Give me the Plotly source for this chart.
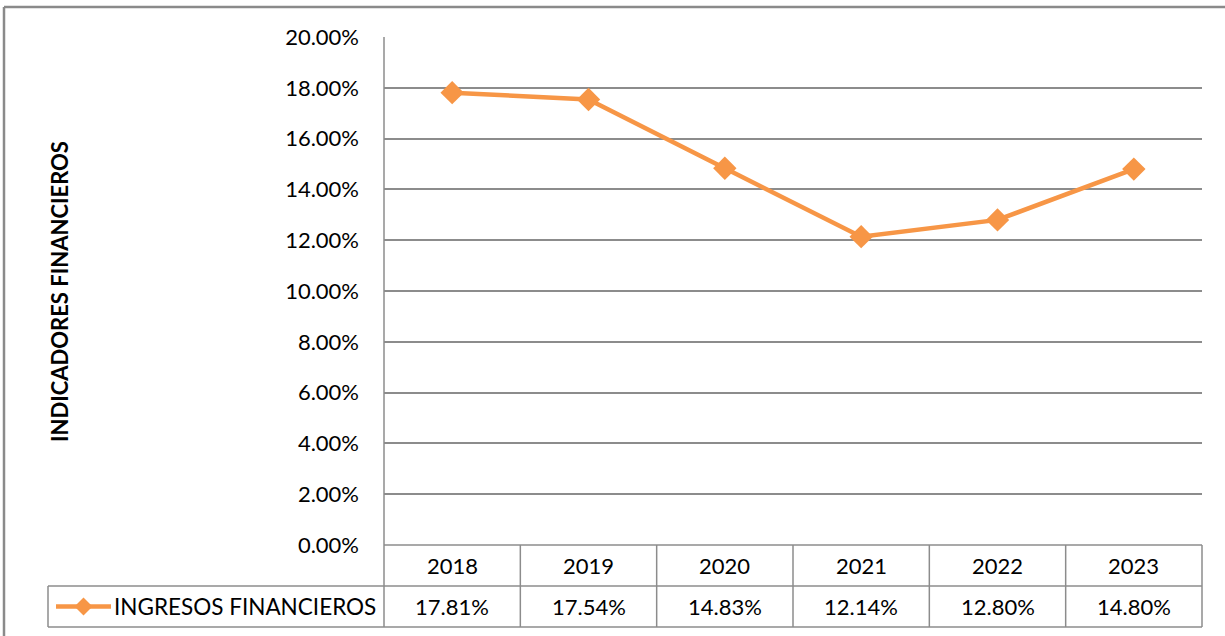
import plotly.graph_objects as go

years = ["2018", "2019", "2020", "2021", "2022", "2023"]
ingresos = [17.81, 17.54, 14.83, 12.14, 12.80, 14.80]
series_name = "INGRESOS FINANCIEROS"
y_ticks = [0, 2, 4, 6, 8, 10, 12, 14, 16, 18, 20]
y_title = "INDICADORES FINANCIEROS"

W, H = 1225, 636
ORANGE = "#F79646"
GRID = "#8C8C8C"
FONT = "Lato"
FS = 22

# pixel layout
px_left, px_right = 384, 1202
py_top, py_bottom = 37, 545
row1_bottom, row2_bottom = 586, 627
legend_left = 48


def X(px):
    return px / W


def Y(py):
    return 1 - py / H


fig = go.Figure()
xs = list(range(len(years)))
fig.add_trace(go.Scatter(
    x=xs, y=ingresos, mode="lines+markers", name=series_name,
    line=dict(color=ORANGE, width=4.5),
    marker=dict(symbol="diamond", size=18, color=ORANGE),
    showlegend=False, hoverinfo="skip", cliponaxis=False,
))

shapes = []
line = dict(color=GRID, width=1.5)
# outer chart border (top and left visible)
shapes.append(dict(type="line", xref="paper", yref="paper", x0=X(4), x1=1, y0=Y(7), y1=Y(7),
                   line=dict(color="#8A8A8A", width=2.5)))
shapes.append(dict(type="line", xref="paper", yref="paper", x0=X(4), x1=X(4), y0=0, y1=Y(7),
                   line=dict(color="#8A8A8A", width=2.5)))
# table horizontal lines
shapes.append(dict(type="line", xref="paper", yref="paper", x0=X(px_left), x1=X(px_right), y0=Y(py_bottom), y1=Y(py_bottom), line=line))
shapes.append(dict(type="line", xref="paper", yref="paper", x0=X(legend_left), x1=X(px_right), y0=Y(row1_bottom), y1=Y(row1_bottom), line=line))
shapes.append(dict(type="line", xref="paper", yref="paper", x0=X(legend_left), x1=X(px_right), y0=Y(row2_bottom), y1=Y(row2_bottom), line=line))
# left axis line extends to table bottom
shapes.append(dict(type="line", xref="paper", yref="paper", x0=X(px_left), x1=X(px_left), y0=Y(py_top), y1=Y(row2_bottom), line=line))
# legend cell left
shapes.append(dict(type="line", xref="paper", yref="paper", x0=X(legend_left), x1=X(legend_left), y0=Y(row1_bottom), y1=Y(row2_bottom), line=line))
# column separators
n = len(years)
colw = (px_right - px_left) / n
for i in range(1, n + 1):
    xp = px_left + i * colw
    shapes.append(dict(type="line", xref="paper", yref="paper", x0=X(xp), x1=X(xp), y0=Y(py_bottom), y1=Y(row2_bottom), line=line))
# legend symbol: line + diamond
ly = (row1_bottom + row2_bottom) / 2
shapes.append(dict(type="line", xref="paper", yref="paper", x0=X(56), x1=X(111), y0=Y(ly), y1=Y(ly),
                   line=dict(color=ORANGE, width=4.5)))
cx, r = 83.5, 9
shapes.append(dict(type="path", xref="paper", yref="paper",
                   path=f"M {X(cx - r)} {Y(ly)} L {X(cx)} {Y(ly - r)} L {X(cx + r)} {Y(ly)} L {X(cx)} {Y(ly + r)} Z",
                   fillcolor=ORANGE, line=dict(color=ORANGE, width=0)))

annotations = []
for i, (yr, v) in enumerate(zip(years, ingresos)):
    ccx = px_left + (i + 0.5) * colw
    annotations.append(dict(xref="paper", yref="paper", x=X(ccx), y=Y((py_bottom + row1_bottom) / 2),
                            xanchor="center", yanchor="middle",
                            text=yr, showarrow=False, font=dict(family=FONT, size=FS, color="#000")))
    annotations.append(dict(xref="paper", yref="paper", x=X(ccx), y=Y(ly),
                            xanchor="center", yanchor="middle",
                            text=f"{v:.2f}%", showarrow=False, font=dict(family=FONT, size=FS, color="#000")))
annotations.append(dict(xref="paper", yref="paper", x=X(112), y=Y(ly), xanchor="left", yanchor="middle",
                        text=series_name, showarrow=False, font=dict(family=FONT, size=22.5, color="#000")))
annotations.append(dict(xref="paper", yref="paper", x=X(59), y=Y(292), textangle=-90,
                        xanchor="center", yanchor="middle",
                        text=f"<b>{y_title}</b>", showarrow=False, font=dict(family=FONT, size=22, color="#000")))

fig.update_layout(
    width=W, height=H, margin=dict(l=0, r=0, t=0, b=0, autoexpand=False),
    paper_bgcolor="white", plot_bgcolor="white",
    shapes=shapes, annotations=annotations,
    xaxis=dict(domain=[X(px_left), X(px_right)], range=[-0.5, n - 0.5], showticklabels=False,
               showgrid=False, zeroline=False, showline=False, ticks="", automargin=False),
    yaxis=dict(domain=[Y(py_bottom), Y(py_top)], range=[0, 20], tickvals=y_ticks,
               ticktext=[f"{t:.2f}%" for t in y_ticks], showgrid=True, gridcolor=GRID, gridwidth=1.5,
               zeroline=False, showline=False, ticks="", ticklabelstandoff=24, automargin=False,
               tickfont=dict(family=FONT, size=FS, color="#000")),
)

fig.write_html("out.html", config={"displayModeBar": False},
               post_script="document.body.style.margin='0';document.body.style.overflow='hidden';")
